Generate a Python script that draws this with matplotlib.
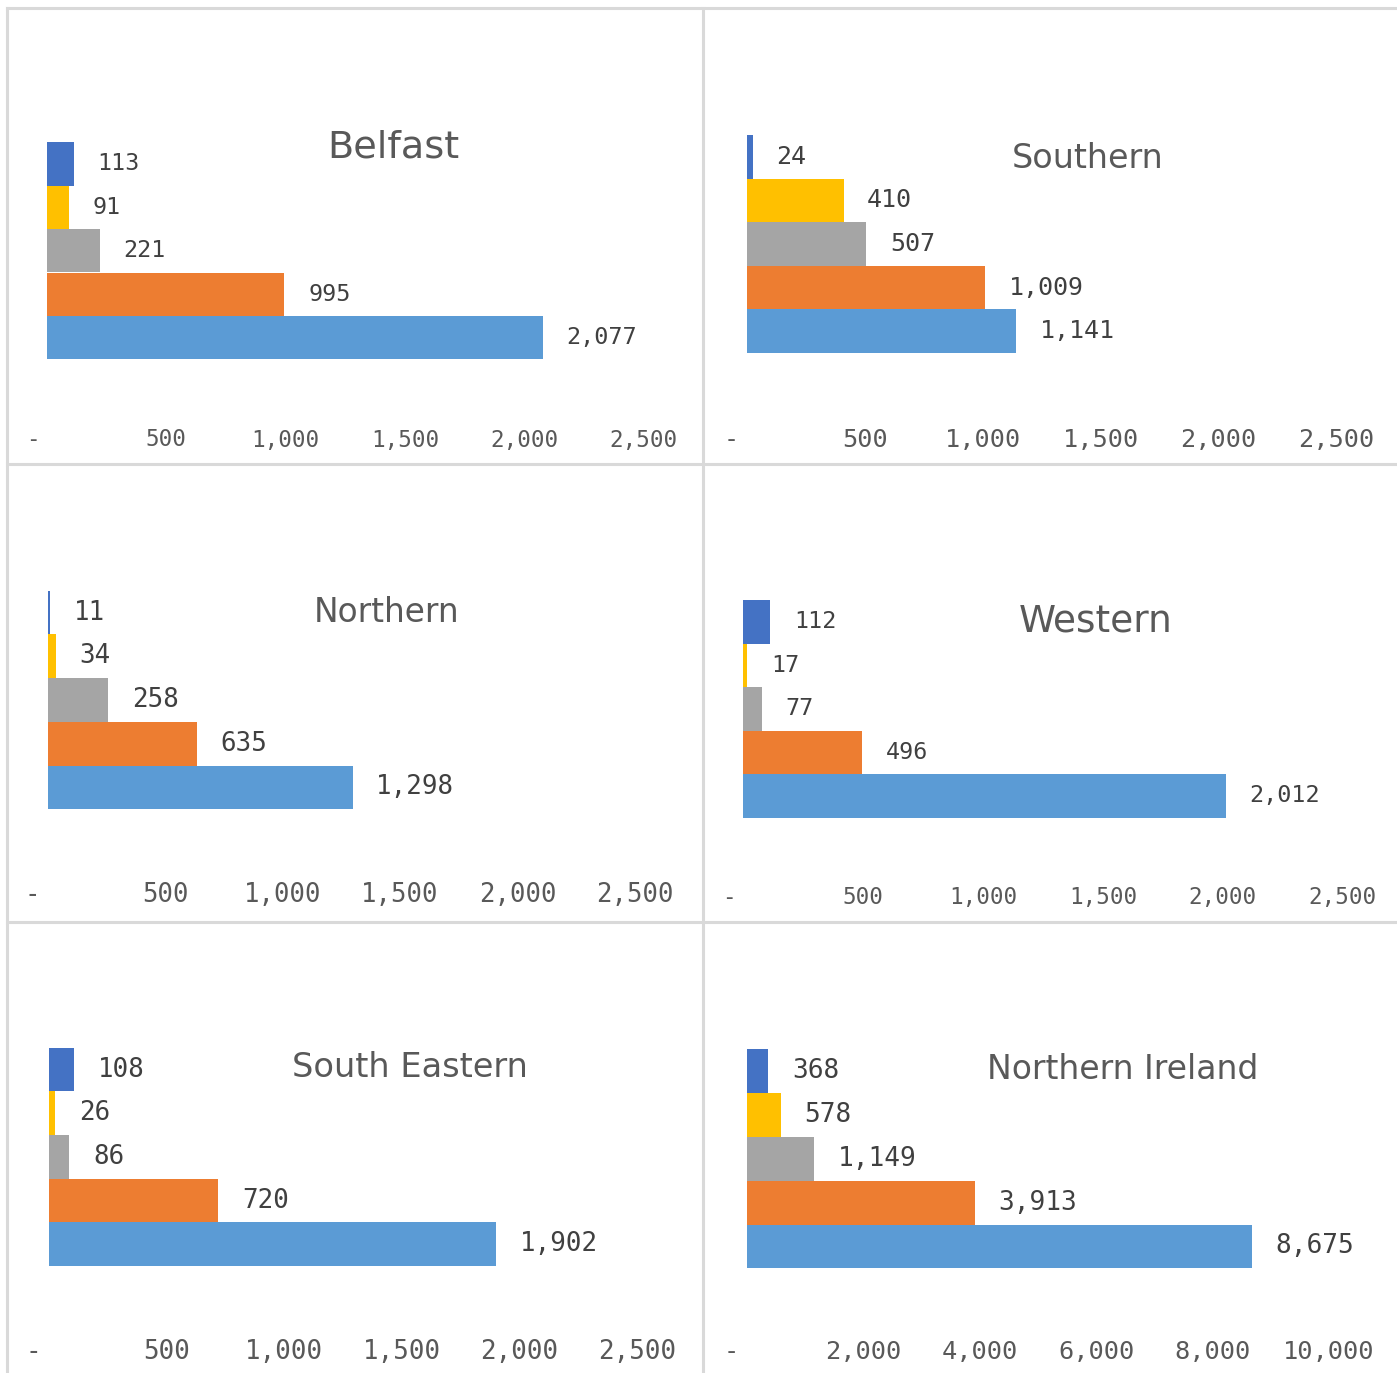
import matplotlib
matplotlib.use("Agg")
import matplotlib.pyplot as plt
from matplotlib.lines import Line2D

W, H = 1397, 1373

regions = ["Belfast", "Southern", "Northern", "Western", "South Eastern", "Northern Ireland"]

# five series per region, listed top bar first
belfast = [113, 91, 221, 995, 2077]
southern = [24, 410, 507, 1009, 1141]
northern = [11, 34, 258, 635, 1298]
western = [112, 17, 77, 496, 2012]
south_eastern = [108, 26, 86, 720, 1902]
northern_ireland = [368, 578, 1149, 3913, 8675]

values = [belfast, southern, northern, western, south_eastern, northern_ireland]

ticks_small = [0, 500, 1000, 1500, 2000, 2500]
ticks_total = [0, 2000, 4000, 6000, 8000, 10000]
axis_ticks = [ticks_small] * 5 + [ticks_total]

colors = ["#4472C4", "#FFC000", "#A5A5A5", "#ED7D31", "#5B9BD5"]

# pixel layout of each panel: bar left, x of axis max, bar top, bar bottom, tick row y,
# title centre x/y, title size, tick size, value label size
layout = [
    (47.0, 643.5, 142.3, 359.3, 440.0, 393, 148, 27.5, 16.3, 16.8),
    (746.9, 1336.6, 135.0, 353.0, 440.0, 1088, 158, 24.0, 18.2, 18.0),
    (47.8, 634.8, 590.7, 809.3, 895.0, 387, 613, 23.6, 18.5, 18.6),
    (743.3, 1342.8, 600.0, 817.7, 898.0, 1096, 621.7, 27.0, 16.3, 16.8),
    (49.1, 636.9, 1047.7, 1266.0, 1351.7, 409.5, 1067.3, 24.2, 18.6, 18.6),
    (746.9, 1329.0, 1049.3, 1268.3, 1351.7, 1123, 1069.3, 23.8, 18.3, 18.8),
]

fig = plt.figure(figsize=(W / 100, H / 100), dpi=100)
fig.patch.set_facecolor("white")


def tick_text(v):
    return "-  " if v == 0 else f"{v:,}"


for name, vals, ticks, lay in zip(regions, values, axis_ticks, layout):
    x0, x1, yt, yb, ty, tx, tyy, tsize, ksize, vsize = lay
    ax = fig.add_axes([x0 / W, 1 - yb / H, (x1 - x0) / W, (yb - yt) / H])
    ax.barh(range(len(vals)), vals, height=1.0, color=colors)
    ax.set_ylim(len(vals) - 0.5, -0.5)
    ax.set_xlim(0, ticks[-1])
    for s in ax.spines.values():
        s.set_visible(False)
    ax.set_yticks([])
    ax.set_xticks(ticks)
    ax.set_xticklabels([tick_text(t) for t in ticks], family="DejaVu Sans Mono",
                       fontsize=ksize, color="#595959")
    ax.tick_params(axis="x", length=0, pad=(ty - yb) * 0.72)
    for lbl in ax.get_xticklabels():
        lbl.set_verticalalignment("center")
    ax.patch.set_alpha(0)

    for i, v in enumerate(vals):
        ax.annotate(f"{v:,}", (v, i), xytext=(17, 0), textcoords="offset points",
                    ha="left", va="center", family="DejaVu Sans Mono",
                    fontsize=vsize, color="#404040")

    fig.text(tx / W, 1 - tyy / H, name, ha="center", va="center",
             family="DejaVu Sans", fontsize=tsize, color="#595959")

# light grey frames between the panels
grey = "#D9D9D9"
frames = [
    ([7, 7], [8, H]),
    ([703, 703], [8, H]),
    ([7, W], [8, 8]),
    ([7, W], [464, 464]),
    ([7, W], [922, 922]),
]
for xs, ys in frames:
    fig.add_artist(Line2D([x / W for x in xs], [1 - y / H for y in ys],
                          color=grey, linewidth=2.2, transform=fig.transFigure))

fig.savefig("out.png", dpi=100, facecolor="white")
